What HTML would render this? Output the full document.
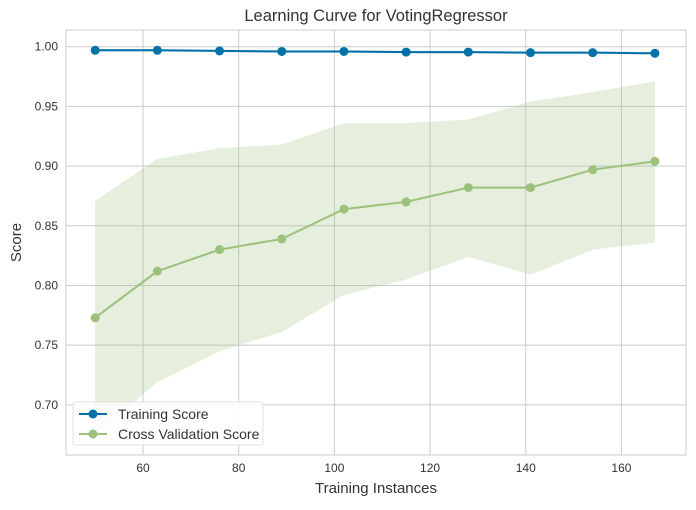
<!DOCTYPE html>
<html><head><meta charset="utf-8"><style>
body{margin:0;background:#fff;}
svg text{font-family:"Liberation Sans",sans-serif;fill:#333;}
</style></head><body>
<svg id="chart" width="696" height="505"></svg>
<script>
const trainSizes=[50,63,76,89,102,115,128,141,154,167];
const trainScores=[0.997,0.997,0.9965,0.996,0.996,0.9955,0.9955,0.995,0.995,0.9945];
const cvScores=[0.773,0.812,0.830,0.839,0.864,0.870,0.882,0.882,0.897,0.904];
const cvUpper=[0.871,0.906,0.915,0.918,0.936,0.936,0.939,0.954,0.962,0.971];
const cvLower=[0.675,0.719,0.745,0.761,0.792,0.805,0.824,0.809,0.830,0.836];
const xTicks=[60,80,100,120,140,160];
const yTicks=[0.70,0.75,0.80,0.85,0.90,0.95,1.00];
const L=66,R=686,T=30,B=455;
const xMin=43.9,xMax=173.5,yMin=0.658,yMax=1.014;
const sx=v=>L+(v-xMin)/(xMax-xMin)*(R-L);
const sy=v=>B-(v-yMin)/(yMax-yMin)*(B-T);
const svg=document.getElementById('chart');const NS='http://www.w3.org/2000/svg';
function mk(t,a,p){const e=document.createElementNS(NS,t);for(const k in a)e.setAttribute(k,a[k]);(p||svg).appendChild(e);return e;}
const clip=mk('clipPath',{id:'pc'});mk('rect',{x:L,y:T,width:R-L,height:B-T},clip);
const grid=mk('g',{});


xTicks.forEach(v=>{mk('line',{x1:sx(v),x2:sx(v),y1:T,y2:B,stroke:'#cccccc','stroke-width':1},grid);
const t=mk('text',{x:sx(v),y:B+17,'text-anchor':'middle','font-size':12});t.textContent=v;

});
yTicks.forEach(v=>{mk('line',{x1:L,x2:R,y1:sy(v),y2:sy(v),stroke:'#cccccc','stroke-width':1},grid);
const t=mk('text',{x:L-8,y:sy(v)+4,'text-anchor':'end','font-size':12});t.textContent=v.toFixed(2);

});
const pg=mk('g',{'clip-path':'url(#pc)'});
function band(up,lo,col,name){let d='';trainSizes.forEach((x,i)=>d+=(i?'L':'M')+sx(x)+','+sy(up[i]));
for(let i=trainSizes.length-1;i>=0;i--)d+='L'+sx(trainSizes[i])+','+sy(lo[i]);
const p=mk('path',{d:d+'Z',fill:col,opacity:0.25},pg);

}
band(cvUpper,cvLower,'#9bc17a','cv-band');
band(trainScores.map(v=>v+0.001),trainScores.map(v=>v-0.001),'#0072a8','train-band');
function series(vals,col,name){const pts=trainSizes.map((x,i)=>sx(x)+','+sy(vals[i])).join(' ');
const l=mk('polyline',{points:pts,fill:'none',stroke:col,'stroke-width':2},pg);


trainSizes.forEach((x,i)=>{const c=mk('circle',{cx:sx(x),cy:sy(vals[i]),r:4.5,fill:col},pg);

});}
series(trainScores,'#0072a8','training-score');
series(cvScores,'#9bc17a','cv-score');
mk('rect',{x:L,y:T,width:R-L,height:B-T,fill:'none',stroke:'#cccccc','stroke-width':1});
let t=mk('text',{x:(L+R)/2,y:21,'text-anchor':'middle','font-size':16.5});t.textContent='Learning Curve for VotingRegressor';

t=mk('text',{x:(L+R)/2,y:493,'text-anchor':'middle','font-size':15});t.textContent='Training Instances';

t=mk('text',{x:21,y:(T+B)/2,'text-anchor':'middle','font-size':15,transform:`rotate(-90 21 ${(T+B)/2})`});t.textContent='Score';

const lg=mk('g',{});


mk('rect',{x:73,y:402,width:190,height:43,fill:'#fff',opacity:0.85,stroke:'#dddddd',rx:3},lg);
[['Training Score','#0072a8',414],['Cross Validation Score','#9bc17a',434]].forEach(([lab,col,y])=>{
mk('line',{x1:79,x2:107,y1:y,y2:y,stroke:col,'stroke-width':2},lg);
mk('circle',{cx:93,cy:y,r:4.5,fill:col},lg);
const tt=mk('text',{x:118,y:y+5,'font-size':14},lg);tt.textContent=lab;

});
</script>
</body></html>
